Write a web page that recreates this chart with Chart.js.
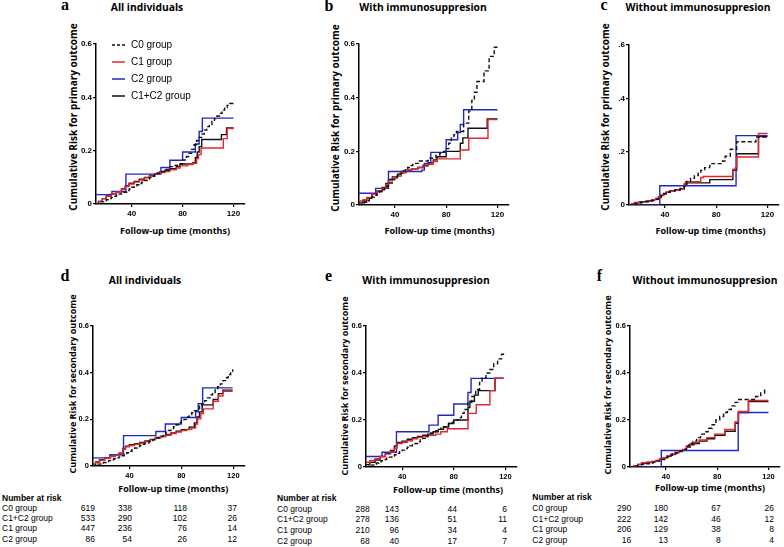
<!DOCTYPE html>
<html>
<head>
<meta charset="utf-8">
<script src="https://cdn.jsdelivr.net/npm/chart.js@4.4.0/dist/chart.umd.min.js"></script>
<style>
body { margin: 0; background: #fff; }
#wrap { position: relative; width: 784px; height: 547px; overflow: hidden; background: #fff; }
canvas { position: absolute; }
.t { position: absolute; white-space: nowrap; color: #000; }
.ttl { font: bold 10.3px/1 'Open Sans', sans-serif; transform: translate(-50%, -50%); }
.lt { font: bold 16px/16px 'Liberation Serif', serif; transform: translateX(-50%); }
.yt { font: bold 10px/1 'Open Sans', sans-serif; transform: translate(-50%, -50%) rotate(-90deg); }
.yt2 { font-size: 9px; }
.xt { font: bold 9px/1 'Open Sans', sans-serif; transform: translate(-50%, -50%); }
.rk { font: 8.5px/1 'Liberation Sans', Arial, sans-serif; transform: translateY(-50%); }
.rkb { font-weight: bold; }
.num { transform: translate(-100%, -50%); }
</style>
</head>
<body>
<div id="wrap">
  <!-- letras y titulos de los paneles -->
  <div class="t lt" style="left:65px;top:-2.7px">a</div>
  <div class="t lt" style="left:329px;top:-1.7px">b</div>
  <div class="t lt" style="left:604px;top:-2.7px">c</div>
  <div class="t lt" style="left:65px;top:268.3px">d</div>
  <div class="t lt" style="left:328.5px;top:268.3px">e</div>
  <div class="t lt" style="left:599.5px;top:268.3px">f</div>

  <div class="t ttl" style="left:147px;top:6.5px">All individuals</div>
  <div class="t ttl" style="left:423px;top:6.5px">With immunosuppresion</div>
  <div class="t ttl" style="left:698px;top:7.3px">Without immunosuppresion</div>
  <div class="t ttl" style="left:145px;top:279.5px">All individuals</div>
  <div class="t ttl" style="left:426px;top:279.5px">With immunosuppresion</div>
  <div class="t ttl" style="left:705px;top:279.5px">Without immunosuppresion</div>

  <div class="t yt" style="left:73px;top:116.7px">Cumulative Risk for primary outcome</div>
  <div class="t yt" style="left:335px;top:117.5px">Cumulative Risk for primary outcome</div>
  <div class="t yt" style="left:605px;top:117px">Cumulative Risk for primary outcome</div>
  <div class="t yt yt2" style="left:71.5px;top:384px">Cumulative Risk for secondary outcome</div>
  <div class="t yt yt2" style="left:343.5px;top:386px">Cumulative Risk for secondary outcome</div>
  <div class="t yt yt2" style="left:607px;top:385px">Cumulative Risk for secondary outcome</div>

  <div class="t xt" style="left:175px;top:229.5px">Follow-up time (months)</div>
  <div class="t xt" style="left:439.5px;top:229.5px">Follow-up time (months)</div>
  <div class="t xt" style="left:710.5px;top:229.5px">Follow-up time (months)</div>
  <div class="t xt" style="left:173.3px;top:488.3px">Follow-up time (months)</div>
  <div class="t xt" style="left:448px;top:489.3px">Follow-up time (months)</div>
  <div class="t xt" style="left:710px;top:487.3px">Follow-up time (months)</div>
</div>
<script>
/******************************* DATOS *******************************/
const groups = ["C0 group", "C1 group", "C2 group", "C1+C2 group"];
const xTickVals = [40, 80, 120];
const yTickVals = [0, 0.2, 0.4, 0.6];
const yTickLabels = ["0", "0.2", "0.4", "0.6"];
const yTickLabelsShort = ["0", ".2", ".4", ".6"];

// a: primary outcome, all individuals  [meses, riesgo]
const aC0 = [[12,0],[14,0.004],[16,0.008],[18,0.012],[20,0.016],[22,0.02],[24,0.025],[26,0.029],[28,0.033],[30,0.037],[32,0.04],[34,0.044],[36,0.05],[38,0.056],[40,0.063],[42,0.068],[44,0.072],[46,0.077],[48,0.082],[50,0.088],[52,0.094],[54,0.099],[56,0.104],[58,0.11],[60,0.116],[63,0.122],[66,0.13],[70,0.14],[73,0.145],[76,0.15],[80,0.165],[83,0.178],[85,0.19],[87,0.205],[89,0.222],[91,0.238],[93,0.25],[95,0.262],[97,0.277],[99,0.29],[101,0.298],[103,0.31],[105,0.32],[107,0.33],[109,0.34],[111,0.352],[113,0.362],[115,0.37],[117,0.377],[120,0.377]];
const aC1 = [[12,0],[14,0.01],[17,0.02],[20,0.03],[24,0.038],[28,0.045],[32,0.055],[35,0.065],[38,0.075],[42,0.082],[46,0.09],[50,0.098],[54,0.105],[58,0.112],[62,0.118],[66,0.122],[70,0.128],[75,0.135],[78,0.143],[84,0.148],[88,0.153],[91,0.17],[92.5,0.185],[94.5,0.21],[112,0.245],[115,0.283],[120,0.283]];
const aC2 = [[12,0.035],[24.5,0.047],[35.5,0.112],[63,0.137],[70,0.164],[80,0.195],[90,0.225],[93,0.272],[95.5,0.322],[120,0.322]];
const aC12 = [[12,0],[14,0.01],[17,0.02],[20,0.03],[24,0.038],[28,0.046],[32,0.056],[35,0.068],[38,0.078],[42,0.085],[46,0.093],[50,0.1],[54,0.107],[58,0.113],[62,0.12],[66,0.126],[70,0.132],[75,0.14],[78,0.15],[88,0.155],[90,0.175],[91.5,0.195],[93,0.215],[95,0.242],[110.5,0.26],[114.5,0.285],[120,0.285]];

// b: primary outcome, with immunosuppression
const bC0 = [[12,0],[14,0.005],[16,0.01],[18,0.016],[20,0.022],[22,0.03],[24,0.036],[26,0.042],[28,0.05],[30,0.057],[32,0.064],[34,0.072],[36,0.082],[38,0.095],[40,0.104],[42,0.11],[44,0.118],[46,0.127],[48,0.135],[50,0.14],[52,0.147],[54,0.155],[59,0.164],[66,0.174],[72,0.185],[75,0.193],[78,0.2],[80,0.21],[82,0.23],[84,0.249],[86,0.262],[88,0.274],[93.6,0.305],[97.6,0.35],[100,0.39],[102,0.42],[104,0.46],[109.5,0.5],[113.5,0.554],[117.5,0.588],[120,0.588]];
const bC1 = [[12,0.015],[15,0.02],[18,0.028],[22,0.04],[26,0.05],[30,0.062],[33,0.075],[35,0.09],[38,0.1],[42,0.108],[45,0.12],[49,0.13],[53,0.135],[58,0.14],[62,0.145],[66,0.152],[70,0.162],[73,0.172],[91,0.205],[97.6,0.249],[112.6,0.318],[120,0.318]];
const bC2 = [[12,0.044],[25,0.062],[35,0.125],[61,0.13],[63,0.155],[68,0.196],[80,0.243],[89,0.27],[91,0.3],[93.6,0.355],[120,0.355]];
const bC12 = [[12,0.008],[15,0.015],[18,0.025],[22,0.04],[26,0.052],[30,0.065],[33,0.08],[35,0.095],[38,0.105],[42,0.115],[45,0.125],[49,0.13],[53,0.135],[58,0.14],[62,0.148],[66,0.158],[70,0.168],[73,0.18],[80,0.2],[91,0.23],[93,0.25],[97,0.286],[112,0.321],[120,0.321]];

// c: primary outcome, without immunosuppression
const cC0 = [[12,0],[15,0.004],[18,0.008],[21,0.011],[24,0.014],[28,0.017],[32,0.021],[35,0.028],[37,0.035],[39,0.042],[41,0.048],[44,0.053],[48,0.057],[52,0.062],[55,0.07],[57,0.088],[60,0.1],[63,0.11],[66,0.12],[68,0.13],[71,0.14],[75,0.155],[85,0.165],[87,0.183],[91,0.209],[96,0.237],[111,0.255],[120,0.255]];
const cC1 = [[12,0],[14,0.005],[16,0.01],[20,0.012],[27,0.015],[30,0.02],[33,0.025],[35,0.03],[37,0.035],[39,0.042],[41,0.048],[44,0.052],[48,0.056],[52,0.06],[55,0.08],[56,0.087],[68,0.103],[70,0.107],[93,0.134],[95,0.14],[96,0.18],[113,0.268],[120,0.268]];
const cC2 = [[12,0],[36,0.072],[95.5,0.26],[120,0.26]];
const cC12 = [[12,0],[14,0.005],[17,0.008],[22,0.012],[27,0.015],[30,0.02],[33,0.025],[35,0.03],[37,0.037],[39,0.043],[41,0.048],[44,0.053],[48,0.057],[52,0.061],[55,0.075],[57,0.083],[75,0.095],[93,0.13],[96,0.192],[113,0.257],[120,0.257]];

// d: secondary outcome, all individuals
const dC0 = [[12,0],[14,0.004],[16,0.008],[18,0.012],[20,0.015],[22,0.019],[24,0.023],[26,0.027],[28,0.031],[30,0.035],[32,0.039],[34,0.044],[36,0.05],[38,0.057],[40,0.063],[42,0.07],[44,0.077],[46,0.083],[48,0.088],[50,0.093],[52,0.098],[55,0.105],[58,0.113],[61,0.12],[63,0.126],[66,0.138],[68,0.145],[70,0.152],[72,0.16],[74,0.168],[76,0.177],[78,0.186],[80,0.193],[82,0.2],[84,0.21],[86,0.22],[88,0.228],[90,0.237],[92,0.245],[94,0.257],[96,0.267],[98,0.28],[100,0.292],[102,0.305],[104,0.315],[106,0.327],[108,0.34],[110,0.352],[112,0.366],[114,0.378],[116,0.392],[118,0.405],[119.5,0.415]];
const dC1 = [[12,0.005],[14,0.015],[17,0.025],[21,0.033],[25,0.04],[29,0.046],[32,0.052],[35,0.072],[37,0.082],[40,0.088],[44,0.093],[48,0.098],[52,0.104],[56,0.112],[60,0.121],[64,0.126],[68,0.132],[72,0.139],[76,0.146],[80,0.152],[84,0.157],[88,0.163],[91,0.18],[92.5,0.202],[95,0.225],[97,0.245],[104.5,0.277],[108.5,0.3],[112,0.32],[119.5,0.32]];
const dC2 = [[12,0.035],[25,0.048],[35.5,0.13],[60.4,0.148],[67.7,0.18],[80,0.208],[91,0.232],[93,0.267],[96.4,0.335],[119.5,0.335]];
const dC12 = [[12,0.008],[14,0.017],[17,0.027],[21,0.035],[25,0.042],[29,0.048],[32,0.055],[35,0.075],[37,0.085],[40,0.091],[44,0.096],[48,0.101],[52,0.107],[56,0.114],[60,0.122],[64,0.128],[68,0.135],[72,0.142],[76,0.149],[80,0.156],[86,0.166],[90,0.185],[92,0.21],[94,0.232],[96,0.262],[104.5,0.285],[108.5,0.31],[112,0.325],[119.5,0.325]];

// e: secondary outcome, with immunosuppression
const eC0 = [[12,0],[14,0.004],[16,0.008],[18,0.012],[20,0.017],[22,0.022],[24,0.027],[26,0.032],[28,0.037],[30,0.042],[32,0.047],[34,0.052],[36,0.058],[38,0.065],[40,0.072],[42,0.078],[44,0.084],[46,0.09],[48,0.095],[50,0.1],[52,0.107],[54,0.115],[56,0.122],[58,0.13],[60,0.138],[62,0.145],[64,0.15],[66,0.155],[68,0.16],[70,0.165],[72,0.17],[74,0.178],[76,0.185],[78,0.19],[80,0.195],[82,0.2],[84,0.21],[86,0.228],[88,0.245],[91,0.275],[94,0.3],[97,0.33],[100,0.36],[102,0.38],[105,0.4],[108,0.415],[111,0.44],[114,0.46],[117,0.48],[118.5,0.49]];
const eC1 = [[12,0.02],[15,0.028],[19,0.035],[23,0.045],[27,0.055],[31,0.065],[34,0.08],[36,0.1],[40,0.105],[44,0.112],[48,0.12],[52,0.126],[56,0.13],[60,0.135],[66,0.14],[70,0.15],[75,0.163],[91,0.228],[97.4,0.265],[108,0.325],[112,0.377],[118.5,0.377]];
const eC2 = [[12,0.045],[24.4,0.063],[35.6,0.15],[60.8,0.178],[67.9,0.22],[80,0.268],[91,0.317],[93.4,0.377],[118.5,0.377]];
const eC12 = [[12,0.01],[15,0.02],[19,0.03],[23,0.045],[27,0.058],[31,0.07],[34,0.09],[36,0.105],[40,0.11],[44,0.118],[48,0.125],[52,0.13],[56,0.135],[60,0.14],[64,0.15],[68,0.16],[72,0.17],[76,0.185],[80,0.2],[91,0.253],[92.5,0.28],[96,0.306],[99,0.325],[112,0.378],[118.5,0.378]];

// f: secondary outcome, without immunosuppression
const fC0 = [[12,0],[15,0.004],[18,0.008],[21,0.011],[24,0.014],[27,0.017],[30,0.02],[33,0.025],[36,0.032],[39,0.042],[42,0.05],[45,0.056],[48,0.062],[51,0.068],[54,0.075],[56,0.09],[58,0.1],[61,0.11],[64,0.125],[67,0.14],[70,0.15],[73,0.165],[76,0.18],[79,0.2],[82,0.215],[85,0.232],[88,0.245],[91,0.26],[94,0.275],[96,0.287],[110,0.3],[114,0.315],[117,0.33],[118.5,0.33]];
const fC1 = [[12,0],[15,0.005],[18,0.012],[21,0.018],[25,0.02],[29,0.024],[32,0.028],[35,0.035],[38,0.04],[41,0.048],[44,0.055],[47,0.062],[50,0.068],[53,0.075],[56,0.09],[59,0.1],[62,0.105],[66,0.115],[72,0.125],[78,0.14],[86,0.16],[94,0.193],[96.6,0.236],[104.4,0.283],[120,0.283]];
const fC2 = [[12,0],[36.4,0.07],[96.4,0.232],[120,0.232]];
const fC12 = [[12,0],[15,0.004],[18,0.01],[21,0.016],[25,0.019],[29,0.023],[32,0.027],[35,0.034],[38,0.039],[41,0.046],[44,0.053],[47,0.06],[50,0.066],[53,0.073],[56,0.085],[59,0.095],[62,0.1],[66,0.11],[72,0.12],[78,0.135],[86,0.152],[94,0.186],[96.6,0.232],[104.4,0.278],[120,0.278]];

// Number at risk
const riskRowLabels = ["C0 group", "C1+C2 group", "C1 group", "C2 group"];
const riskD = [[619, 338, 118, 37], [533, 290, 102, 26], [447, 236, 76, 14], [86, 54, 26, 12]];
const riskE = [[288, 143, 44, 6], [278, 136, 51, 11], [210, 96, 34, 4], [68, 40, 17, 7]];
const riskF = [[290, 180, 67, 26], [222, 142, 46, 12], [206, 129, 38, 8], [16, 13, 8, 4]];
/*********************************************************************/

const RED = "#e3262b";
const BLUE = "#2326c4";
const BLACK = "#111111";
const wrap = document.getElementById("wrap");

// Leyenda dentro del area del grafico (solo panel a)
const insideLegend = {
    id: "insideLegend",
    afterDatasetsDraw(chart, args, opts) {
        if (!opts.show) return;
        const ctx = chart.ctx;
        const a = chart.chartArea;
        ctx.save();
        ctx.font = '10px "Liberation Sans", Arial, sans-serif';
        ctx.textBaseline = "middle";
        ctx.fillStyle = "#000";
        chart.data.datasets.forEach((d, i) => {
            const y = a.top + opts.y + i * opts.step;
            ctx.beginPath();
            ctx.setLineDash(d.borderDash.length ? [3, 2] : []);
            ctx.strokeStyle = d.borderColor;
            ctx.lineWidth = 1.5;
            ctx.moveTo(a.left + opts.x, y);
            ctx.lineTo(a.left + opts.x + opts.len, y);
            ctx.stroke();
            ctx.setLineDash([]);
            ctx.fillText(d.label, a.left + opts.x + opts.len + opts.gap, y);
        });
        ctx.restore();
    }
};

function serie(label, pts, color, dash) {
    return {
        label: label,
        data: pts.map((p) => ({ x: p[0], y: p[1] })),
        borderColor: color,
        borderWidth: 1.4,
        borderDash: dash || [],
        stepped: true,
        pointRadius: 0,
        fill: false
    };
}

// area = [izquierda, arriba, derecha, abajo] del area de trazado en la pagina
function panel(area, series, yLabels, small, legend) {
    const cv = document.createElement("canvas");
    const w = area[2] - area[0] + 36;
    const h = area[3] - area[1] + 26;
    cv.width = w;
    cv.height = h;
    cv.style.left = area[0] - 30 + "px";
    cv.style.top = area[1] - 8 + "px";
    wrap.appendChild(cv);

    const tickFont = { family: "Liberation Sans", weight: "bold", size: small ? 7.5 : 8 };
    new Chart(cv, {
        type: "line",
        data: {
            datasets: [
                serie(groups[0], series[0], BLACK, [4, 2.5]),
                serie(groups[1], series[1], RED),
                serie(groups[2], series[2], BLUE),
                serie(groups[3], series[3], BLACK)
            ]
        },
        options: {
            responsive: false,
            animation: false,
            layout: { padding: { top: 8, right: 6, left: 0, bottom: 0 } },
            plugins: {
                legend: { display: false },
                tooltip: { enabled: false },
                insideLegend: { show: legend, x: 16, y: 1, step: 17, len: 13, gap: 6 }
            },
            scales: {
                x: {
                    type: "linear",
                    min: 12,
                    max: 129,
                    afterBuildTicks: (s) => { s.ticks = xTickVals.map((v) => ({ value: v })); },
                    afterFit: (s) => { s.height = 18; },
                    grid: { drawOnChartArea: false, drawTicks: true, tickLength: 3, color: "#000", lineWidth: 1.2 },
                    border: { color: "#000", width: 1.5 },
                    ticks: { color: "#000", font: tickFont, padding: 2, maxRotation: 0, autoSkip: false }
                },
                y: {
                    type: "linear",
                    min: 0,
                    max: 0.6,
                    afterBuildTicks: (s) => { s.ticks = yTickVals.map((v) => ({ value: v })); },
                    afterFit: (s) => { s.width = 30; },
                    grid: { drawOnChartArea: false, drawTicks: true, tickLength: 3, color: "#000", lineWidth: 1.2 },
                    border: { color: "#000", width: 1.5 },
                    ticks: {
                        color: "#000",
                        font: tickFont,
                        padding: 1,
                        autoSkip: false,
                        callback: (v, i) => yLabels[i]
                    }
                }
            }
        },
        plugins: [insideLegend]
    });
}

panel([96, 44, 245, 204], [aC0, aC1, aC2, aC12], yTickLabels, false, true);
panel([359, 44, 509, 205], [bC0, bC1, bC2, bC12], yTickLabels, false, false);
panel([629, 45, 779, 205], [cC0, cC1, cC2, cC12], yTickLabelsShort, false, false);
panel([93, 326, 245, 466], [dC0, dC1, dC2, dC12], yTickLabels, true, false);
panel([366, 326, 517, 467], [eC0, eC1, eC2, eC12], yTickLabels, true, false);
panel([630, 326, 780, 467], [fC0, fC1, fC2, fC12], yTickLabels, true, false);

// Tablas de "Number at risk"
function riskTable(data, x, head, rows, cols) {
    const hd = document.createElement("div");
    hd.className = "t rk rkb";
    hd.style.left = x + "px";
    hd.style.top = head + "px";
    hd.textContent = "Number at risk";
    wrap.appendChild(hd);
    for (let i = 0; i < data.length; i++) {
        const lb = document.createElement("div");
        lb.className = "t rk";
        lb.style.left = x + "px";
        lb.style.top = rows[i] + "px";
        lb.textContent = riskRowLabels[i];
        wrap.appendChild(lb);
        for (let j = 0; j < data[i].length; j++) {
            const n = document.createElement("div");
            n.className = "t rk num";
            n.style.left = cols[j] + "px";
            n.style.top = rows[i] + "px";
            n.textContent = data[i][j];
            wrap.appendChild(n);
        }
    }
}
riskTable(riskD, 2, 497.5, [507.5, 518, 528.3, 539], [95, 132, 187, 237]);
riskTable(riskE, 277, 498.3, [508.7, 519.3, 530, 540.7], [369.7, 399, 457, 507]);
riskTable(riskF, 532.3, 497.3, [508, 518.7, 529.3, 540], [631.3, 668, 720.7, 774]);
</script>
</body>
</html>
